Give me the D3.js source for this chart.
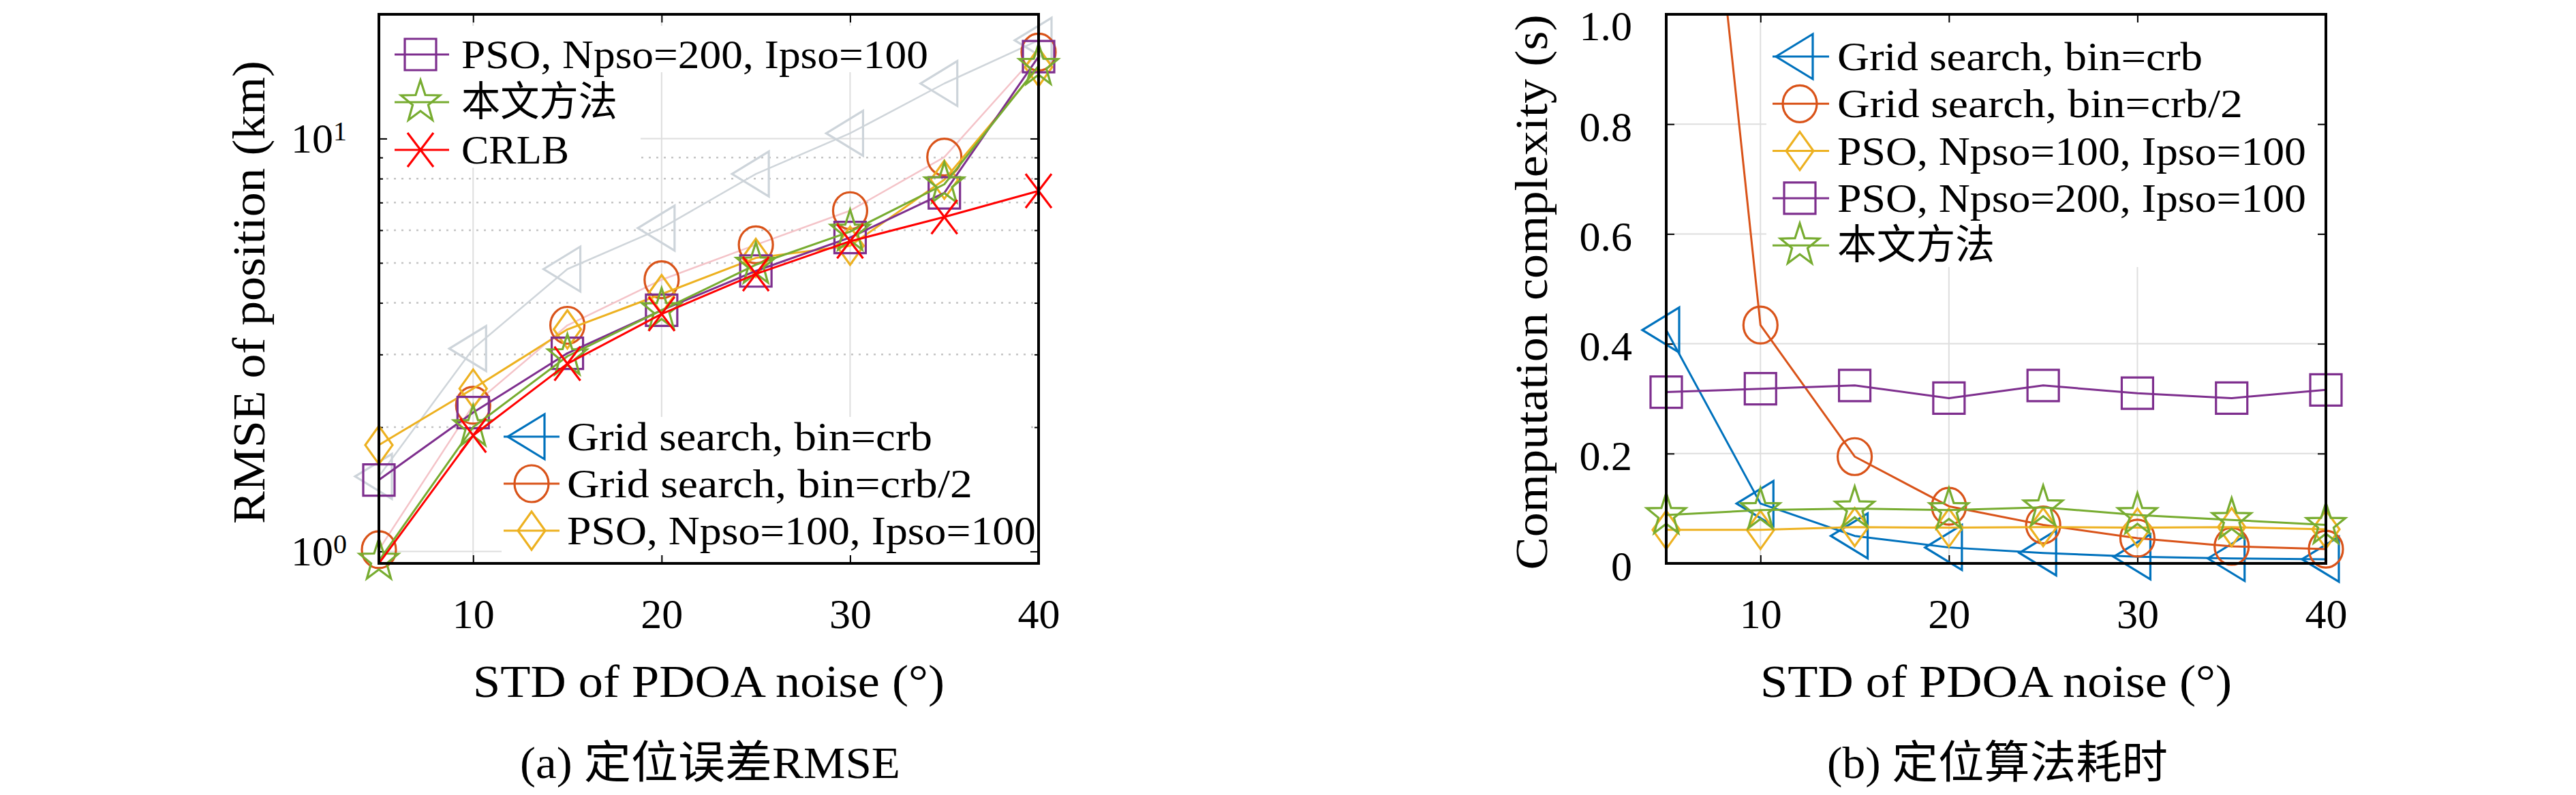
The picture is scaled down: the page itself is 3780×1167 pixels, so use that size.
<!DOCTYPE html>
<html>
<head>
<meta charset="utf-8">
<script src="https://cdn.jsdelivr.net/npm/d3@7"></script>
<style>
  html, body { margin: 0; padding: 0; background: #ffffff; }
  svg { display: block; }
</style>
</head>
<body>
<svg id="chart" width="3780" height="1167"></svg>
<script>
// ---- data ----
const noiseStd = [5, 10, 15, 20, 25, 30, 35, 40];
const xTicks = [10, 20, 30, 40];

// (a) RMSE of position (km)
const rmseGridCrb  = [1.52, 3.1, 4.83, 6.07, 8.21, 10.3, 13.6, 17.3];
const rmseGridCrb2 = [1.01, 2.26, 3.53, 4.55, 5.53, 6.69, 9.02, 16.2];
const rmsePso100   = [1.81, 2.48, 3.45, 4.2, 5.14, 5.5, 7.95, 14.9];
const rmsePso200   = [1.49, 2.17, 3.02, 3.84, 4.78, 5.76, 7.39, 15.8];
const rmseProposed = [0.95, 2.0, 2.97, 3.84, 4.95, 5.95, 7.75, 15.0];
const rmseCrlb     = [0.935, 1.91, 2.85, 3.76, 4.70, 5.64, 6.46, 7.47];
const rmseMajorTicks = [1, 10];
const rmseMinorTicks = [2, 3, 4, 5, 6, 7, 8, 9];

// (b) computation complexity (s)
const timeGridCrb  = [0.425, 0.109, 0.050, 0.029, 0.019, 0.012, 0.009, 0.0075];
const timeGridCrb2 = [2.05, 0.434, 0.1945, 0.104, 0.070, 0.046, 0.031, 0.026];
const timePso100   = [0.061, 0.061, 0.066, 0.065, 0.066, 0.065, 0.066, 0.062];
const timePso200   = [0.312, 0.318, 0.324, 0.301, 0.324, 0.310, 0.301, 0.316];
const timeProposed = [0.088, 0.097, 0.100, 0.097, 0.102, 0.088, 0.079, 0.070];
const timeTicks = [0, 0.2, 0.4, 0.6, 0.8, 1.0];
const timeTickLabels = ['0', '0.2', '0.4', '0.6', '0.8', '1.0'];

const labelGridCrb  = 'Grid search, bin=crb';
const labelGridCrb2 = 'Grid search, bin=crb/2';
const labelPso100   = 'PSO, Npso=100, Ipso=100';
const labelPso200   = 'PSO, Npso=200, Ipso=100';
const labelProposed = '本文方法';
const labelCrlb     = 'CRLB';

// ---- styling ----
const FONT = "'Liberation Serif', 'Times New Roman', 'Noto Sans CJK SC', serif";
const C = {
  blue: '#0072BD', orange: '#D95319', yellow: '#EDB120',
  purple: '#7E2F8E', green: '#77AC30', red: '#FF0000'
};

// marker outlines, relative to the marker centre
const markerPath = {
  square: () => 'M-23,-23H23V23H-23Z',
  circle: () => 'M-25,0A25,27 0 1,0 25,0A25,27 0 1,0 -25,0Z',
  diamond: () => 'M0,-28L20,0L0,28L-20,0Z',
  triLeft: () => 'M-35,0L19,-33L19,33Z',
  cross: () => 'M-19,-25L19,25M-19,25L19,-25',
  star: () => {
    const pts = d3.range(10).map(i => {
      const r = i % 2 === 0 ? 30 : 12;
      const a = -Math.PI / 2 + i * Math.PI / 5;
      return [r * Math.cos(a), r * Math.sin(a) * 1.08];
    });
    return 'M' + pts.map(p => p.join(',')).join('L') + 'Z';
  }
};

const svg = d3.select('#chart');
svg.append('rect').attr('width', 3780).attr('height', 1167).attr('fill', '#ffffff');

function drawPanel(cfg) {
  const { x0, x1, y0, y1 } = cfg.box;
  const x = d3.scaleLinear().domain([5, 40]).range([x0, x1]);
  const y = cfg.log
    ? d3.scaleLog().domain(cfg.yDomain).range([y1, y0])
    : d3.scaleLinear().domain(cfg.yDomain).range([y1, y0]);

  const g = svg.append('g');
  const clipId = 'clip-' + cfg.id;
  g.append('clipPath').attr('id', clipId)
    .append('rect').attr('x', x0).attr('y', y0).attr('width', x1 - x0).attr('height', y1 - y0);

  // grid
  const grid = g.append('g');
  grid.selectAll('.vg').data(xTicks.filter(t => t < 40)).join('line')
    .attr('x1', d => x(d)).attr('x2', d => x(d)).attr('y1', y0).attr('y2', y1)
    .attr('stroke', '#dedede').attr('stroke-width', 2);
  grid.selectAll('.hg').data(cfg.gridMajor).join('line')
    .attr('x1', x0).attr('x2', x1).attr('y1', d => y(d)).attr('y2', d => y(d))
    .attr('stroke', '#dedede').attr('stroke-width', 2);
  if (cfg.gridMinor) {
    grid.selectAll('.mg').data(cfg.gridMinor).join('line')
      .attr('x1', x0).attr('x2', x1).attr('y1', d => y(d)).attr('y2', d => y(d))
      .attr('stroke', '#c4c4c4').attr('stroke-width', 2.5).attr('stroke-dasharray', '3,8');
  }

  // legend backgrounds (they hide the grid behind them)
  cfg.legendBg.forEach(r => {
    g.append('rect').attr('x', x0 + r[0]).attr('y', y0 + r[1])
      .attr('width', r[2]).attr('height', r[3]).attr('fill', '#ffffff');
  });

  // ticks (inward, on all four sides)
  const styleTicks = ax => {
    ax.select('.domain').remove();
    ax.selectAll('line').attr('stroke', '#000').attr('stroke-width', 2);
    ax.selectAll('text').attr('font-family', FONT).attr('fill', '#000');
  };
  g.append('g').attr('transform', `translate(0,${y1})`)
    .call(d3.axisBottom(x).tickValues(xTicks).tickSize(-12).tickPadding(51))
    .call(styleTicks)
    .call(ax => ax.selectAll('text').attr('font-size', 62));
  g.append('g').attr('transform', `translate(0,${y0})`)
    .call(d3.axisTop(x).tickValues(xTicks).tickSize(-12).tickFormat(''))
    .call(styleTicks);

  const yAxis = d3.axisLeft(y).tickValues(cfg.yTicks).tickSize(-12).tickPadding(cfg.yPad)
    .tickFormat(cfg.yFormat || null);
  g.append('g').attr('transform', `translate(${x0},0)`)
    .call(yAxis)
    .call(styleTicks)
    .call(ax => ax.selectAll('text').attr('font-size', 62))
    .call(ax => { if (cfg.tickText) cfg.tickText(ax, y); });
  g.append('g').attr('transform', `translate(${x1},0)`)
    .call(d3.axisRight(y).tickValues(cfg.yTicks).tickSize(-12).tickFormat(''))
    .call(styleTicks);
  if (cfg.minorTicks) {
    g.append('g').attr('transform', `translate(${x0},0)`)
      .call(d3.axisLeft(y).tickValues(cfg.minorTicks).tickSize(-6).tickFormat(''))
      .call(styleTicks);
    g.append('g').attr('transform', `translate(${x1},0)`)
      .call(d3.axisRight(y).tickValues(cfg.minorTicks).tickSize(-6).tickFormat(''))
      .call(styleTicks);
  }

  // series
  const line = d3.line().x(d => x(d.x)).y(d => y(d.y));
  cfg.series.forEach(s => {
    const pts = noiseStd.map((v, i) => ({ x: v, y: s.values[i] }));
    g.append('path').datum(pts)
      .attr('d', line)
      .attr('clip-path', cfg.clipLines ? `url(#${clipId})` : null)
      .attr('fill', 'none')
      .attr('stroke', s.lineColor || s.color)
      .attr('stroke-width', s.lineWidth || 3)
      .attr('stroke-linejoin', 'round');
    g.append('g').selectAll('path')
      .data(pts.filter(p => p.y >= cfg.yDomain[0] && p.y <= cfg.yDomain[1]))
      .join('path')
      .attr('transform', d => `translate(${x(d.x)},${y(d.y)})`)
      .attr('d', markerPath[s.marker])
      .attr('fill', 'none')
      .attr('stroke', s.markerColor || s.color)
      .attr('stroke-width', 3.2);
  });

  // axes box
  g.append('rect').attr('x', x0).attr('y', y0).attr('width', x1 - x0).attr('height', y1 - y0)
    .attr('fill', 'none').attr('stroke', '#000').attr('stroke-width', 4);

  // legends
  cfg.legends.forEach(lg => {
    lg.items.forEach((it, i) => {
      const cy = y0 + lg.top + i * lg.step;
      g.append('line')
        .attr('x1', x0 + lg.lineStart).attr('x2', x0 + lg.lineEnd)
        .attr('y1', cy).attr('y2', cy)
        .attr('stroke', it.color).attr('stroke-width', 3);
      g.append('path')
        .attr('transform', `translate(${x0 + lg.marker},${cy})`)
        .attr('d', markerPath[it.marker])
        .attr('fill', 'none').attr('stroke', it.color).attr('stroke-width', 3.2);
      g.append('text')
        .attr('x', x0 + lg.text).attr('y', cy + 20)
        .attr('font-family', FONT).attr('font-size', 60)
        .attr('textLength', it.width).attr('lengthAdjust', 'spacingAndGlyphs')
        .text(it.label);
    });
  });

  // labels
  const cx = (x0 + x1) / 2;
  g.append('text')
    .attr('x', cx).attr('y', 1023).attr('text-anchor', 'middle')
    .attr('font-family', FONT).attr('font-size', 68)
    .attr('textLength', 692).attr('lengthAdjust', 'spacingAndGlyphs')
    .text('STD of PDOA noise (°)');
  g.append('text')
    .attr('transform', `translate(${cfg.yLabelX},${(y0 + y1) / 2 + 5}) rotate(-90)`)
    .attr('text-anchor', 'middle')
    .attr('font-family', FONT).attr('font-size', 68)
    .attr('textLength', cfg.yLabelWidth).attr('lengthAdjust', 'spacingAndGlyphs')
    .text(cfg.yLabel);
  g.append('text')
    .attr('x', cx + 2).attr('y', 1142).attr('text-anchor', 'middle')
    .attr('font-family', FONT).attr('font-size', 66)
    .attr('textLength', cfg.captionWidth).attr('lengthAdjust', 'spacingAndGlyphs')
    .text(cfg.caption);
}

// ---- (a) RMSE ----
drawPanel({
  id: 'rmse',
  box: { x0: 556, x1: 1524, y0: 21, y1: 827 },
  log: true,
  yDomain: [0.9357, 20],
  yTicks: rmseMajorTicks,
  minorTicks: rmseMinorTicks,
  gridMajor: rmseMajorTicks,
  gridMinor: rmseMinorTicks,
  yPad: 47,
  yFormat: d => '',
  tickText: ax => ax.selectAll('text').each(function (d) {
    const t = d3.select(this);
    t.append('tspan').text('10');
    t.append('tspan').attr('dy', '-0.45em').attr('font-size', 40).text(Math.round(Math.log10(d)));
  }),
  clipLines: false,
  series: [
    { values: rmseGridCrb, color: C.blue, marker: 'triLeft', lineColor: '#cfd5da', markerColor: '#cdd4da', lineWidth: 2.5 },
    { values: rmseGridCrb2, color: C.orange, marker: 'circle', lineColor: '#f4c3c8', lineWidth: 2.5 },
    { values: rmsePso100, color: C.yellow, marker: 'diamond' },
    { values: rmsePso200, color: C.purple, marker: 'square' },
    { values: rmseProposed, color: C.green, marker: 'star' },
    { values: rmseCrlb, color: C.red, marker: 'cross' }
  ],
  legendBg: [[11, 17, 805, 68], [11, 85, 373, 140], [180, 591, 776, 203]],
  legends: [
    { top: 59, step: 70, lineStart: 23, lineEnd: 103, marker: 61, text: 121,
      items: [
        { label: labelPso200, color: C.purple, marker: 'square', width: 685 },
        { label: labelProposed, color: C.green, marker: 'star', width: 229 },
        { label: labelCrlb, color: C.red, marker: 'cross', width: 158 }
      ] },
    { top: 620, step: 69, lineStart: 183, lineEnd: 265, marker: 224, text: 276,
      items: [
        { label: labelGridCrb, color: C.blue, marker: 'triLeft', width: 536 },
        { label: labelGridCrb2, color: C.orange, marker: 'circle', width: 595 },
        { label: labelPso100, color: C.yellow, marker: 'diamond', width: 688 }
      ] }
  ],
  yLabel: 'RMSE of position (km)',
  yLabelX: 388,
  yLabelWidth: 680,
  caption: '(a) 定位误差RMSE',
  captionWidth: 558
});

// ---- (b) computation complexity ----
drawPanel({
  id: 'time',
  box: { x0: 2445, x1: 3413, y0: 21, y1: 827 },
  log: false,
  yDomain: [0, 1],
  yTicks: timeTicks,
  gridMajor: timeTicks.filter(t => t > 0 && t < 1),
  yPad: 50,
  yFormat: (d, i) => timeTickLabels[i],
  // labels sit a little below their ticks; the top one is kept inside the page
  tickText: (ax, y) => ax.selectAll('text')
    .attr('dy', null)
    .attr('y', d => Math.max(y(d) + 24, 58) - y(d)),
  clipLines: true,
  series: [
    { values: timeGridCrb, color: C.blue, marker: 'triLeft' },
    { values: timeGridCrb2, color: C.orange, marker: 'circle' },
    { values: timePso100, color: C.yellow, marker: 'diamond' },
    { values: timePso200, color: C.purple, marker: 'square' },
    { values: timeProposed, color: C.green, marker: 'star' }
  ],
  legendBg: [[147, 12, 809, 359]],
  legends: [
    { top: 62, step: 69.3, lineStart: 156, lineEnd: 239, marker: 196, text: 251,
      items: [
        { label: labelGridCrb, color: C.blue, marker: 'triLeft', width: 536 },
        { label: labelGridCrb2, color: C.orange, marker: 'circle', width: 595 },
        { label: labelPso100, color: C.yellow, marker: 'diamond', width: 688 },
        { label: labelPso200, color: C.purple, marker: 'square', width: 688 },
        { label: labelProposed, color: C.green, marker: 'star', width: 231 }
      ] }
  ],
  yLabel: 'Computation complexity (s)',
  yLabelX: 2270,
  yLabelWidth: 815,
  caption: '(b) 定位算法耗时',
  captionWidth: 500
});
</script>
</body>
</html>
